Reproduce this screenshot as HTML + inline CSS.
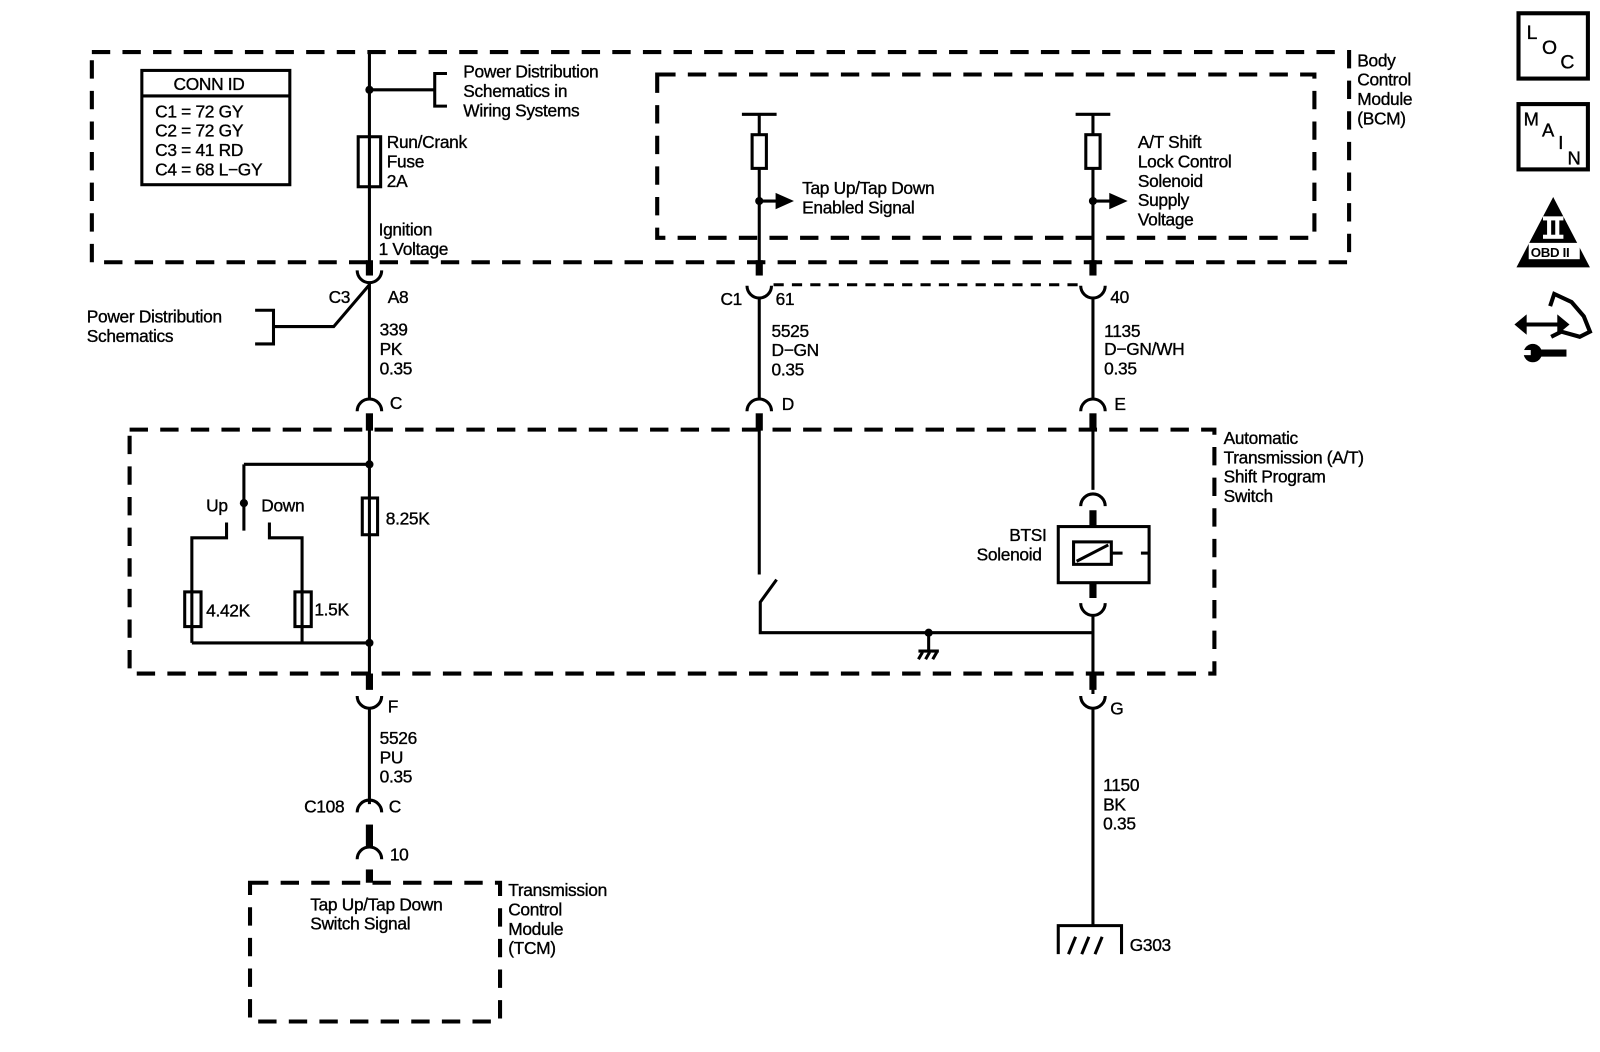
<!DOCTYPE html>
<html><head><meta charset="utf-8"><style>
html,body{margin:0;padding:0;background:#fff}
svg{display:block}
text{font-family:"Liberation Sans",Arial,sans-serif;font-size:17px;fill:#000;stroke:#000;stroke-width:0.35;letter-spacing:-0.3px}
</style></head><body>
<svg width="1600" height="1052" viewBox="0 0 1600 1052" xmlns="http://www.w3.org/2000/svg">
<g transform="scale(1.0205)">
<g fill="none" stroke="#000" stroke-width="4" stroke-dasharray="18,12">
<rect x="90" y="51" width="1232" height="206"/>
<rect x="644" y="73" width="644" height="160"/>
<rect x="127" y="421" width="1063" height="239"/>
<rect x="245" y="865" width="245" height="136"/>
</g>
<line x1="758" y1="279" x2="1060" y2="279" stroke="#000" stroke-width="3" stroke-dasharray="10,8"/>
<g fill="none" stroke="#000" stroke-width="3">
<rect x="139" y="69" width="145" height="112"/>
<line x1="139" y1="94" x2="284" y2="94"/>
<line x1="362" y1="50" x2="362" y2="270"/>
<line x1="362" y1="88" x2="426" y2="88"/>
<polyline points="438,72 426,72 426,104 438,104"/>
<rect x="351" y="134" width="22" height="49" fill="#fff"/>
<line x1="362" y1="134" x2="362" y2="183"/>
<path d="M350,265 A12,12 0 0 0 374,265"/>
<line x1="362" y1="277" x2="362" y2="392"/>
<polyline points="268,320 327,320 362,279"/>
<polyline points="250,304 268,304 268,337 250,337"/>
<path d="M350,403 A12,12 0 0 1 374,403"/>
<line x1="362" y1="420" x2="362" y2="675"/>
<line x1="362" y1="455" x2="239" y2="455"/>
<line x1="239" y1="455" x2="239" y2="520"/>
<polyline points="222,512 222,527 188,527 188,630"/>
<polyline points="264,512 264,527 296,527 296,630"/>
<line x1="188" y1="630" x2="362" y2="630"/>
<rect x="181" y="580" width="16" height="34" fill="#fff"/><line x1="188" y1="580" x2="188" y2="614"/>
<rect x="289" y="580" width="16" height="34" fill="#fff"/><line x1="296" y1="580" x2="296" y2="614"/>
<rect x="355" y="488" width="15" height="36" fill="#fff"/><line x1="362" y1="488" x2="362" y2="524"/>
<path d="M350,682 A12,12 0 0 0 374,682"/>
<line x1="362" y1="694" x2="362" y2="788"/>
<path d="M350,796 A12,12 0 0 1 374,796"/>
<path d="M350,842 A12,12 0 0 1 374,842"/>
<line x1="727" y1="112" x2="761" y2="112"/>
<line x1="744" y1="112" x2="744" y2="270"/>
<rect x="737" y="132" width="14" height="33" fill="#fff"/>
<line x1="744" y1="197" x2="762" y2="197"/>
<path d="M732,280 A12,12 0 0 0 756,280"/>
<line x1="744" y1="292" x2="744" y2="392"/>
<path d="M732,403 A12,12 0 0 1 756,403"/>
<line x1="744" y1="420" x2="744" y2="563"/>
<polyline points="761,568 745,590 745,620 1071,620"/>
<line x1="910" y1="620" x2="910" y2="637"/>
<line x1="1054" y1="112" x2="1088" y2="112"/>
<line x1="1071" y1="112" x2="1071" y2="270"/>
<rect x="1064" y="132" width="14" height="33" fill="#fff"/>
<line x1="1071" y1="197" x2="1089" y2="197"/>
<path d="M1059,280 A12,12 0 0 0 1083,280"/>
<line x1="1071" y1="292" x2="1071" y2="392"/>
<path d="M1059,403 A12,12 0 0 1 1083,403"/>
<line x1="1071" y1="420" x2="1071" y2="480"/>
<path d="M1059,496 A12,12 0 0 1 1083,496"/>
<rect x="1037" y="516" width="89" height="55"/>
<rect x="1052" y="531" width="37" height="22" fill="#fff"/>
<line x1="1055" y1="550" x2="1086" y2="534"/>
<line x1="1089" y1="542" x2="1100" y2="542"/>
<line x1="1118" y1="542" x2="1126" y2="542"/>
<path d="M1059,591 A12,12 0 0 0 1083,591"/>
<line x1="1071" y1="603" x2="1071" y2="680"/>
<path d="M1059,682 A12,12 0 0 0 1083,682"/>
<line x1="1071" y1="694" x2="1071" y2="907"/>
<polyline points="1037,935 1037,907 1099,907 1099,935"/>
<line x1="1047" y1="935" x2="1054" y2="918"/>
<line x1="1060" y1="935" x2="1067" y2="918"/>
<line x1="1073" y1="935" x2="1080" y2="918"/>
<line x1="900" y1="638" x2="920" y2="638"/>
<line x1="900" y1="646" x2="904" y2="639"/><line x1="907" y1="646" x2="911" y2="639"/><line x1="914" y1="646" x2="918" y2="639"/>
</g>
<g stroke="#000" stroke-width="7">
<line x1="362" y1="255" x2="362" y2="270"/>
<line x1="362" y1="405" x2="362" y2="422"/>
<line x1="362" y1="660" x2="362" y2="676"/>
<line x1="362" y1="808" x2="362" y2="830"/>
<line x1="362" y1="852" x2="362" y2="865"/>
<line x1="744" y1="255" x2="744" y2="270"/>
<line x1="744" y1="405" x2="744" y2="422"/>
<line x1="1071" y1="255" x2="1071" y2="270"/>
<line x1="1071" y1="405" x2="1071" y2="422"/>
<line x1="1071" y1="500" x2="1071" y2="516"/>
<line x1="1071" y1="571" x2="1071" y2="586"/>
<line x1="1071" y1="660" x2="1071" y2="676"/>
</g>
<g fill="#000">
<circle cx="362" cy="88" r="4"/><circle cx="362" cy="455" r="4"/><circle cx="362" cy="630" r="4"/>
<circle cx="239" cy="493" r="4"/><circle cx="744" cy="197" r="4"/><circle cx="1071" cy="197" r="4"/>
<circle cx="910" cy="620" r="4"/>
<polygon points="760,189 778,197 760,205"/>
<polygon points="1087,189 1105,197 1087,205"/>
</g>
<text x="170" y="88">CONN ID</text>
<text x="152" y="115">C1 = 72 GY</text>
<text x="152" y="134">C2 = 72 GY</text>
<text x="152" y="153">C3 = 41 RD</text>
<text x="152" y="172">C4 = 68 L−GY</text>
<text x="454" y="76">Power Distribution</text>
<text x="454" y="95">Schematics in</text>
<text x="454" y="114">Wiring Systems</text>
<text x="379" y="145">Run/Crank</text>
<text x="379" y="164">Fuse</text>
<text x="379" y="183">2A</text>
<text x="371" y="231">Ignition</text>
<text x="371" y="250">1 Voltage</text>
<text x="1330" y="65">Body</text>
<text x="1330" y="84">Control</text>
<text x="1330" y="103">Module</text>
<text x="1330" y="122">(BCM)</text>
<text x="786" y="190">Tap Up/Tap Down</text>
<text x="786" y="209">Enabled Signal</text>
<text x="1115" y="145">A/T Shift</text>
<text x="1115" y="164">Lock Control</text>
<text x="1115" y="183">Solenoid</text>
<text x="1115" y="202">Supply</text>
<text x="1115" y="221">Voltage</text>
<text x="322" y="297">C3</text><text x="380" y="297">A8</text>
<text x="85" y="316">Power Distribution</text>
<text x="85" y="335">Schematics</text>
<text x="372" y="329">339</text><text x="372" y="348">PK</text><text x="372" y="367">0.35</text>
<text x="382" y="401">C</text>
<text x="706" y="299">C1</text><text x="760" y="299">61</text>
<text x="756" y="330">5525</text><text x="756" y="349">D−GN</text><text x="756" y="368">0.35</text>
<text x="766" y="402">D</text>
<text x="1088" y="297">40</text>
<text x="1082" y="330">1135</text><text x="1082" y="348">D−GN/WH</text><text x="1082" y="367">0.35</text>
<text x="1092" y="402">E</text>
<text x="1199" y="435">Automatic</text>
<text x="1199" y="454">Transmission (A/T)</text>
<text x="1199" y="473">Shift Program</text>
<text x="1199" y="492">Switch</text>
<text x="202" y="501">Up</text><text x="256" y="501">Down</text>
<text x="378" y="514">8.25K</text>
<text x="202" y="604">4.42K</text>
<text x="308" y="603">1.5K</text>
<text x="989" y="530">BTSI</text>
<text x="957" y="549">Solenoid</text>
<text x="380" y="698">F</text>
<text x="1088" y="700">G</text>
<text x="372" y="729">5526</text><text x="372" y="748">PU</text><text x="372" y="767">0.35</text>
<text x="298" y="796">C108</text><text x="381" y="796">C</text>
<text x="382" y="843">10</text>
<text x="1081" y="775">1150</text><text x="1081" y="794">BK</text><text x="1081" y="813">0.35</text>
<text x="304" y="892">Tap Up/Tap Down</text>
<text x="304" y="911">Switch Signal</text>
<text x="498" y="878">Transmission</text>
<text x="498" y="897">Control</text>
<text x="498" y="916">Module</text>
<text x="498" y="935">(TCM)</text>
<text x="1107" y="932">G303</text>
<g fill="none" stroke="#000" stroke-width="4">
<rect x="1488" y="13" width="68" height="64"/>
<rect x="1488" y="102" width="68" height="64"/>
</g>
<text x="1496" y="38" style="font-size:19px">L</text>
<text x="1511" y="53" style="font-size:19px">O</text>
<text x="1529" y="67" style="font-size:19px">C</text>
<text x="1493" y="123" style="font-size:18px">M</text>
<text x="1511" y="134" style="font-size:18px">A</text>
<text x="1527" y="146" style="font-size:18px">I</text>
<text x="1536" y="161" style="font-size:18px">N</text>
<polygon points="1522,193 1486,262 1558,262" fill="#000"/>
<rect x="1512" y="212" width="20" height="4" fill="#fff"/>
<rect x="1512" y="230" width="20" height="4" fill="#fff"/>
<rect x="1516" y="214" width="4" height="18" fill="#fff"/>
<rect x="1524" y="214" width="4" height="18" fill="#fff"/>
<rect x="1498" y="238" width="50" height="16" fill="#fff"/>
<text x="1500" y="252" style="font-size:13px;font-weight:bold;stroke-width:0">OBD II</text>
<g stroke="#000" stroke-width="4" fill="none">
<polyline points="1519,300 1523,288 1540,296 1552,310 1558,325 1548,330 1530,325 1520,330"/>
<line x1="1492" y1="318" x2="1530" y2="318"/>
<line x1="1505" y1="346" x2="1535" y2="346" stroke-width="7"/>
</g>
<polygon points="1484,318 1496,308 1496,328" fill="#000"/>
<polygon points="1538,318 1526,308 1526,328" fill="#000"/>
<circle cx="1502" cy="346" r="9" fill="#000"/>
<rect x="1492" y="343" width="8" height="5" fill="#fff"/>
</g>
</svg>
</body></html>
